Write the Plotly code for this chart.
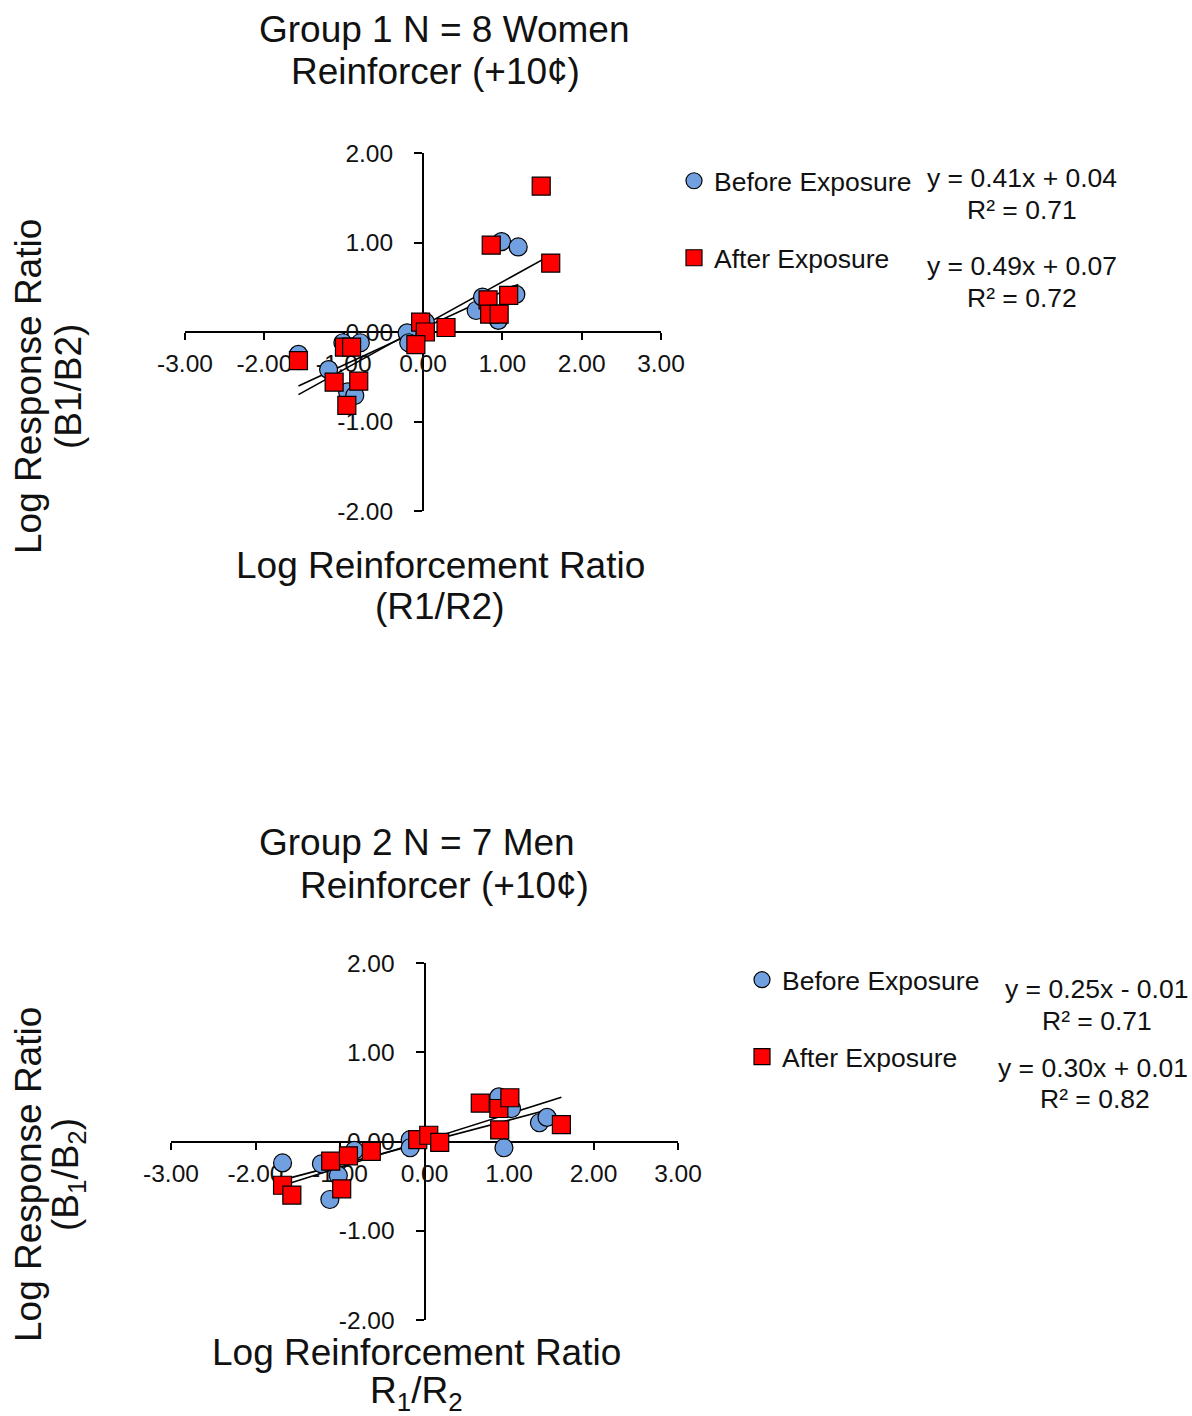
import plotly.graph_objects as go

W, H = 1192, 1416
FONT = "Liberation Sans, Arial, sans-serif"

# ---------------- data ----------------
tick_x_vals = [-3, -2, -1, 0, 1, 2, 3]
tick_x_text = ["-3.00", "-2.00", "-1.00", "0.00", "1.00", "2.00", "3.00"]
tick_y_vals = [-2, -1, 0, 1, 2]
tick_y_text = ["-2.00", "-1.00", "0.00", "1.00", "2.00"]

# Group 1 (women)
g1_before_x = [-1.57, -1.01, -0.79, -1.19, -0.95, -0.86, -0.20, -0.18, 0.03, 0.67, 0.75, 0.99, 1.20, 1.17, 0.95]
g1_before_y = [-0.25, -0.12, -0.12, -0.42, -0.67, -0.71, -0.01, -0.12, 0.11, 0.24, 0.39, 1.01, 0.95, 0.42, 0.13]
g1_after_x = [-1.57, 1.49, 0.86, 1.61, 1.08, 0.82, 0.84, 0.96, -0.03, 0.03, 0.29, -0.09, -0.99, -0.90, -1.12, -0.81, -0.96]
g1_after_y = [-0.32, 1.63, 0.97, 0.77, 0.41, 0.36, 0.20, 0.20, 0.11, 0.00, 0.05, -0.14, -0.17, -0.17, -0.56, -0.55, -0.82]
g1_fit_slope = [0.41, 0.49]
g1_fit_icpt = [0.04, 0.07]
g1_fit_r2 = [0.71, 0.72]

# Group 2 (men)
g2_before_x = [-1.68, -1.22, -1.02, -1.12, -0.83, -0.17, -0.17, 0.88, 1.03, 0.94, 1.36, 1.45]
g2_before_y = [-0.24, -0.25, -0.38, -0.65, -0.10, 0.02, -0.07, 0.50, 0.37, -0.07, 0.21, 0.27]
g2_after_x = [-1.68, -1.57, -1.11, -0.98, -0.90, -0.63, -0.08, 0.05, 0.18, 0.66, 0.88, 1.01, 0.89, 1.62]
g2_after_y = [-0.49, -0.60, -0.22, -0.53, -0.16, -0.11, 0.02, 0.07, -0.01, 0.43, 0.37, 0.49, 0.13, 0.19]
g2_fit_slope = [0.25, 0.30]
g2_fit_icpt = [-0.01, 0.01]
g2_fit_r2 = [0.71, 0.82]

series_names = ["Before Exposure", "After Exposure"]

# ---------------- helpers ----------------
def px(x):
    return x / W


def py(y):
    return 1 - y / H


BLUE = "#70a0e0"
RED = "#ff0000"

fig = go.Figure()

panels = [
    dict(xa="x", ya="y", bx=g1_before_x, by=g1_before_y, ax_=g1_after_x, ay_=g1_after_y,
         slope=g1_fit_slope, icpt=g1_fit_icpt, r2=g1_fit_r2, legends=["legend", "legend2"]),
    dict(xa="x2", ya="y2", bx=g2_before_x, by=g2_before_y, ax_=g2_after_x, ay_=g2_after_y,
         slope=g2_fit_slope, icpt=g2_fit_icpt, r2=g2_fit_r2, legends=["legend3", "legend4"]),
]

for p in panels:
    # trendlines (from the fitted equations, spanning each series' x extent)
    for k, xs in enumerate([p["bx"], p["ax_"]]):
        x0, x1 = min(xs), max(xs)
        fig.add_trace(go.Scatter(
            x=[x0, x1], y=[p["slope"][k] * x0 + p["icpt"][k], p["slope"][k] * x1 + p["icpt"][k]],
            mode="lines", line=dict(color="black", width=1.6), showlegend=False,
            xaxis=p["xa"], yaxis=p["ya"], hoverinfo="skip"))
    fig.add_trace(go.Scatter(
        x=p["bx"], y=p["by"], mode="markers", name=series_names[0],
        marker=dict(symbol="circle", size=18, color=BLUE, line=dict(color="black", width=1.2)),
        xaxis=p["xa"], yaxis=p["ya"], legend=p["legends"][0]))
    fig.add_trace(go.Scatter(
        x=p["ax_"], y=p["ay_"], mode="markers", name=series_names[1],
        marker=dict(symbol="square", size=18, color=RED, line=dict(color="black", width=1.2)),
        xaxis=p["xa"], yaxis=p["ya"], legend=p["legends"][1]))

# axis geometry (pixels)
top_x = (185, 661)
top_y = (153, 511)
bot_x = (171, 678)
bot_y = (963, 1320)


def xaxis_cfg(xr, yr):
    return dict(domain=[px(xr[0]), px(xr[1])], range=[-3, 3], anchor="free",
                position=(py(yr[0]) + py(yr[1])) / 2, showline=True, linecolor="black", linewidth=2,
                ticks="outside", ticklen=7, tickwidth=2, tickcolor="black",
                tickvals=tick_x_vals, ticktext=tick_x_text, showgrid=False, zeroline=False,
                tickfont=dict(family=FONT, size=24.5, color="#111"), layer="below traces",
                ticklabelstandoff=3)


def yaxis_cfg(xr, yr):
    return dict(domain=[py(yr[1]), py(yr[0])], range=[-2, 2], anchor="free",
                position=(px(xr[0]) + px(xr[1])) / 2, showline=True, linecolor="black", linewidth=2,
                ticks="outside", ticklen=8, tickwidth=2, tickcolor="black",
                tickvals=tick_y_vals, ticktext=tick_y_text, showgrid=False, zeroline=False,
                tickfont=dict(family=FONT, size=24.5, color="#111"), layer="below traces",
                ticklabelstandoff=16)


def leg_cfg(cx, cy):
    return dict(x=px(cx - 20), y=py(cy), xanchor="left", yanchor="middle",
                bgcolor="rgba(0,0,0,0)", font=dict(family=FONT, size=26.5, color="#111"),
                itemsizing="trace")


ann = []


def text(s, x, y, size=37, angle=0):
    ann.append(dict(text=s, x=px(x), y=py(y), xref="paper", yref="paper", showarrow=False,
                    xanchor="center", yanchor="middle", textangle=angle,
                    font=dict(family=FONT, size=size, color="#111")))


# titles
text("Group 1 N = 8 Women", 445, 30)
text("Reinforcer (+10¢)", 435, 72)
text("Group 2 N = 7 Men", 417, 842)
text("Reinforcer (+10¢)", 445, 885)
# axis titles
text("Log Reinforcement Ratio", 440, 565)
text("(R1/R2)", 440, 606)
text("Log Reinforcement Ratio", 416, 1352)
text("R<sub>1</sub>/R<sub>2</sub>", 416, 1393)
text("Log Response Ratio", 28, 387, angle=-90)
text("(B1/B2)", 68, 387, angle=-90)
text("Log Response Ratio", 28, 1175, angle=-90)
text("(B<sub>1</sub>/B<sub>2</sub>)", 68, 1175, angle=-90)


def eq(s, b):
    sign = "+" if b >= 0 else "-"
    return f"y = {s:.2f}x {sign} {abs(b):.2f}"


text(eq(g1_fit_slope[0], g1_fit_icpt[0]), 1022, 178, size=26.5)
text(f"R² = {g1_fit_r2[0]:.2f}", 1022, 210, size=26.5)
text(eq(g1_fit_slope[1], g1_fit_icpt[1]), 1022, 266, size=26.5)
text(f"R² = {g1_fit_r2[1]:.2f}", 1022, 298, size=26.5)
text(eq(g2_fit_slope[0], g2_fit_icpt[0]), 1096, 989, size=26.5)
text(f"R² = {g2_fit_r2[0]:.2f}", 1097, 1021, size=26.5)
text(eq(g2_fit_slope[1], g2_fit_icpt[1]), 1093, 1068, size=26.5)
text(f"R² = {g2_fit_r2[1]:.2f}", 1095, 1099, size=26.5)

fig.update_layout(
    width=W, height=H, margin=dict(l=0, r=0, t=0, b=0, autoexpand=False),
    paper_bgcolor="white", plot_bgcolor="white",
    xaxis=xaxis_cfg(top_x, top_y), yaxis=yaxis_cfg(top_x, top_y),
    xaxis2=xaxis_cfg(bot_x, bot_y), yaxis2=yaxis_cfg(bot_x, bot_y),
    legend=leg_cfg(694, 181), legend2=leg_cfg(694, 258),
    legend3=leg_cfg(762, 980), legend4=leg_cfg(762, 1057),
    annotations=ann, showlegend=True,
)

fig.write_html("out.html", config={"displayModeBar": False},
               post_script="document.body.style.margin='0';")
